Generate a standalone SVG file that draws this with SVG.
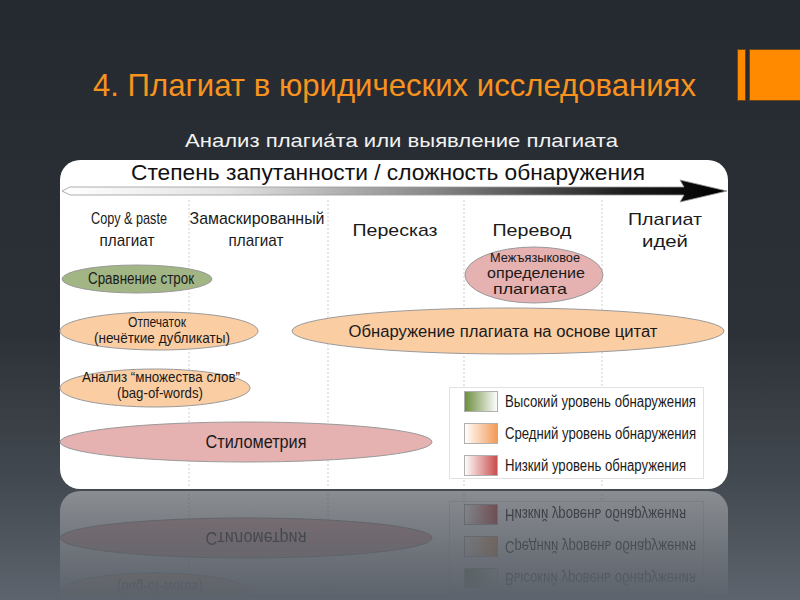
<svg xmlns="http://www.w3.org/2000/svg" xmlns:xlink="http://www.w3.org/1999/xlink" width="800" height="600" viewBox="0 0 800 600">
<defs>
<style>
text{font-family:"Liberation Sans",Arial,sans-serif;}
.title{font-size:32px;fill:#f7931e;}
.sub{font-size:19px;fill:#f2f2f2;}
.hd{font-size:22px;fill:#111;}
.col{font-size:17px;fill:#1a1a1a;text-anchor:middle;}
.lbl{font-size:16px;fill:#1a1a1a;text-anchor:middle;}
.lbl2{font-size:14.5px;fill:#1a1a1a;text-anchor:middle;}
.leg{font-size:16px;fill:#1a1a1a;}
.div{stroke:#cfcfcf;stroke-width:1;stroke-dasharray:2 2;fill:none;}
.ell{stroke:#9a9a9a;stroke-width:1;}
.green{fill:#a2b585;}
.peach{fill:#fbcda3;}
.pink{fill:#e5b1b1;}
.sw{stroke:#b0b0b0;stroke-width:1;}
</style>
<linearGradient id="bg" x1="0" y1="0" x2="0" y2="600" gradientUnits="userSpaceOnUse">
<stop offset="0" stop-color="#252a30"/>
<stop offset="0.55" stop-color="#2c3137"/>
<stop offset="0.8" stop-color="#434950"/>
<stop offset="1" stop-color="#5e646d"/>
</linearGradient>
<linearGradient id="arrowG" x1="62" y1="0" x2="727" y2="0" gradientUnits="userSpaceOnUse">
<stop offset="0" stop-color="#ffffff"/>
<stop offset="0.25" stop-color="#e2e2e2"/>
<stop offset="0.55" stop-color="#8a8a8a"/>
<stop offset="0.85" stop-color="#1c1c1c"/>
<stop offset="1" stop-color="#000000"/>
</linearGradient>
<linearGradient id="swG" x1="0" y1="0" x2="1" y2="0">
<stop offset="0" stop-color="#6a8c3c"/>
<stop offset="1" stop-color="#ffffff"/>
</linearGradient>
<linearGradient id="swO" x1="0" y1="0" x2="1" y2="0">
<stop offset="0" stop-color="#ffffff"/>
<stop offset="1" stop-color="#f29a55"/>
</linearGradient>
<linearGradient id="swR" x1="0" y1="0" x2="1" y2="0">
<stop offset="0" stop-color="#ffffff"/>
<stop offset="1" stop-color="#c94a4a"/>
</linearGradient>
<linearGradient id="rmg" x1="0" y1="489" x2="0" y2="598" gradientUnits="userSpaceOnUse">
<stop offset="0" stop-color="#fff" stop-opacity="0.38"/>
<stop offset="1" stop-color="#fff" stop-opacity="0"/>
</linearGradient>
<mask id="rm" maskUnits="userSpaceOnUse" x="0" y="489" width="800" height="111">
<rect x="0" y="489" width="800" height="111" fill="url(#rmg)"/>
</mask>
</defs>

<rect x="0" y="0" width="800" height="600" fill="url(#bg)"/>

<g id="header">
<rect x="737.5" y="49.5" width="8" height="51" fill="#ff8a00" stroke="#6b4514" stroke-width="1"/>
<rect x="749.5" y="49.5" width="52" height="51" fill="#ff8a00" stroke="#6b4514" stroke-width="1"/>
<text class="title" x="93" y="96" textLength="603" lengthAdjust="spacingAndGlyphs">4. Плагиат в юридических исследованиях</text>
<text class="sub" x="185" y="147" textLength="433" lengthAdjust="spacingAndGlyphs">Анализ плагиа́та или выявление плагиата</text>
</g>

<g id="panel">
<rect x="60" y="160" width="668" height="329" rx="20" ry="20" fill="#ffffff"/>
<g id="dividers">
<line class="div" x1="189" y1="200" x2="189" y2="488"/>
<line class="div" x1="328" y1="200" x2="328" y2="488"/>
<line class="div" x1="464" y1="200" x2="464" y2="488"/>
<line class="div" x1="602" y1="200" x2="602" y2="488"/>
</g>
<text class="hd" x="131" y="180" textLength="514" lengthAdjust="spacingAndGlyphs">Степень запутанности / сложность обнаружения</text>
<g id="connectors">
<path d="M62,191 L70,187 L684,187 L680,180 L727,191 L680,202 L684,195 L70,195 Z" fill="url(#arrowG)" stroke="#9a9a9a" stroke-width="0.8"/>
</g>
<g id="col-copy"><text class="col" x="129" y="224" textLength="76" lengthAdjust="spacingAndGlyphs">Copy &amp; paste</text><text class="col" x="127" y="246" textLength="55" lengthAdjust="spacingAndGlyphs">плагиат</text></g>
<g id="col-mask"><text class="col" x="257" y="224" textLength="135" lengthAdjust="spacingAndGlyphs">Замаскированный</text><text class="col" x="256" y="246" textLength="55" lengthAdjust="spacingAndGlyphs">плагиат</text></g>
<g id="col-retell"><text class="col" x="395" y="236" textLength="85" lengthAdjust="spacingAndGlyphs">Пересказ</text></g>
<g id="col-transl"><text class="col" x="532" y="236" textLength="79" lengthAdjust="spacingAndGlyphs">Перевод</text></g>
<g id="col-ideas"><text class="col" x="665" y="225" textLength="74" lengthAdjust="spacingAndGlyphs">Плагиат</text><text class="col" x="665" y="247" textLength="46" lengthAdjust="spacingAndGlyphs">идей</text></g>

<g id="n-strings"><ellipse class="ell green" cx="137" cy="279" rx="75" ry="14"/><text class="lbl" x="141" y="284" textLength="106" lengthAdjust="spacingAndGlyphs">Сравнение строк</text></g>
<g id="n-fingerprint"><ellipse class="ell peach" cx="159" cy="331" rx="99" ry="19"/><text class="lbl2" x="157" y="327" textLength="58" lengthAdjust="spacingAndGlyphs">Отпечаток</text><text class="lbl2" x="162" y="343" textLength="136" lengthAdjust="spacingAndGlyphs">(нечёткие дубликаты)</text></g>
<g id="n-bow"><ellipse class="ell peach" cx="155" cy="388" rx="95" ry="19"/><text class="lbl2" x="161" y="382" textLength="158" lengthAdjust="spacingAndGlyphs">Анализ “множества слов”</text><text class="lbl2" x="160" y="398" textLength="86" lengthAdjust="spacingAndGlyphs">(bag-of-words)</text></g>
<g id="n-stylometry"><ellipse class="ell pink" cx="246" cy="442" rx="186" ry="20"/><text class="lbl" x="256" y="448" style="font-size:18px" textLength="101" lengthAdjust="spacingAndGlyphs">Стилометрия</text></g>
<g id="n-crosslang"><ellipse class="ell pink" cx="534" cy="275" rx="69" ry="28"/><text class="lbl2" x="535" y="262" style="font-size:13px" textLength="90" lengthAdjust="spacingAndGlyphs">Межъязыковое</text><text class="lbl2" x="536" y="278" textLength="98" lengthAdjust="spacingAndGlyphs">определение</text><text class="lbl2" x="530" y="294" textLength="74" lengthAdjust="spacingAndGlyphs">плагиата</text></g>
<g id="n-citation"><ellipse class="ell peach" cx="508" cy="331" rx="216" ry="23"/><text class="lbl" x="503" y="337" textLength="309" lengthAdjust="spacingAndGlyphs">Обнаружение плагиата на основе цитат</text></g>

<g id="legend">
<rect x="449.5" y="387.5" width="254" height="91" fill="#ffffff" stroke="#e2e2e2" stroke-width="1"/>
<rect class="sw" x="464.5" y="391.5" width="33" height="20" fill="url(#swG)"/>
<text class="leg" x="505" y="407" textLength="191" lengthAdjust="spacingAndGlyphs">Высокий уровень обнаружения</text>
<rect class="sw" x="464.5" y="423.5" width="33" height="20" fill="url(#swO)"/>
<text class="leg" x="505" y="439" textLength="191" lengthAdjust="spacingAndGlyphs">Средний уровень обнаружения</text>
<rect class="sw" x="464.5" y="455.5" width="33" height="20" fill="url(#swR)"/>
<text class="leg" x="505" y="471" textLength="181" lengthAdjust="spacingAndGlyphs">Низкий уровень обнаружения</text>
</g>
</g>

<g id="reflection" mask="url(#rm)">
<use xlink:href="#panel" href="#panel" transform="matrix(1,0,0,-1,0,980)"/>
</g>
</svg>
